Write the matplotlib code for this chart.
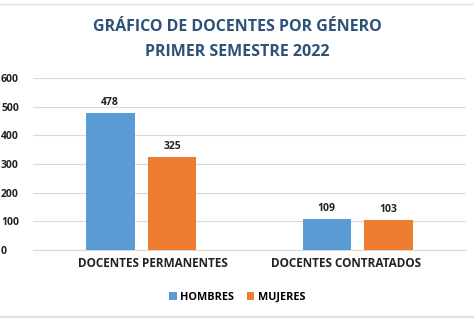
import numpy as np
import matplotlib
matplotlib.use('Agg')
import matplotlib.pyplot as plt
from matplotlib.lines import Line2D

categories = ["DOCENTES PERMANENTES", "DOCENTES CONTRATADOS"]
hombres = [478, 109]
mujeres = [325, 103]
series_names = ["HOMBRES", "MUJERES"]
yticks = [0, 100, 200, 300, 400, 500, 600]

BLUE = '#5B9BD5'
ORANGE = '#ED7D31'
plt.rcParams['font.family'] = ['Open Sans', 'DejaVu Sans']
plt.rcParams['font.weight'] = 'bold'

fig = plt.figure(figsize=(4.74, 3.24), dpi=100)
fig.patch.set_facecolor('white')
ax = fig.add_axes([33/474, 1 - 250/324, 433/474, 172/324])

x = np.arange(len(categories))
w = 0.224
off = 0.143
b1 = ax.bar(x - off, hombres, w, color=BLUE, label=series_names[0], zorder=3)
b2 = ax.bar(x + off, mujeres, w, color=ORANGE, label=series_names[1], zorder=3)

for bars in (b1, b2):
    for r in bars:
        ax.text(r.get_x() + r.get_width()/2, r.get_height() + 18, f'{int(r.get_height())}',
                ha='center', va='bottom', fontsize=7.5, fontweight='bold', color='#222222')

ax.set_xlim(-0.5, 1.5)
ax.set_ylim(0, 600)
ax.set_yticks(yticks)
ax.set_yticklabels([str(t) for t in yticks], fontsize=7.5, fontweight='bold', color='#222222')
# category labels sit slightly inward of the bar groups, as in the source image
ax.set_xticks(x + np.array([0.055, -0.055]))
ax.set_xticklabels(categories, fontsize=8.5, fontweight='bold', color='#222222')
ax.tick_params(axis='both', length=0)
ax.tick_params(axis='y', pad=23)
ax.tick_params(axis='x', pad=5)
for lbl in ax.get_yticklabels():
    lbl.set_horizontalalignment('left')
ax.grid(axis='y', color='#D9D9D9', linewidth=0.8, zorder=0)
for s in ['top', 'right', 'left']:
    ax.spines[s].set_visible(False)
ax.spines['bottom'].set_color('#D9D9D9')
ax.spines['bottom'].set_linewidth(0.8)

fig.text(0.5, 1 - 27/324, "GRÁFICO DE DOCENTES POR GÉNERO", ha='center', va='center',
         fontsize=11.5, fontweight='bold', color='#2E5277')
fig.text(0.5, 1 - 52/324, "PRIMER SEMESTRE 2022", ha='center', va='center',
         fontsize=11.5, fontweight='bold', color='#2E5277')

fig.legend(handles=[b1, b2], labels=series_names, loc='center', bbox_to_anchor=(0.5, 1 - 297/324),
           ncol=2, frameon=False, fontsize=7.8, handlelength=0.7, handleheight=0.7,
           handletextpad=0.3, columnspacing=1.2)

fig.add_artist(Line2D([0, 1], [1 - 4/324, 1 - 4/324], color='#E0E0E0', linewidth=1))
fig.add_artist(Line2D([0, 1], [1 - 317/324, 1 - 317/324], color='#E0E0E0', linewidth=1.5))

fig.savefig("out.png", dpi=100)
